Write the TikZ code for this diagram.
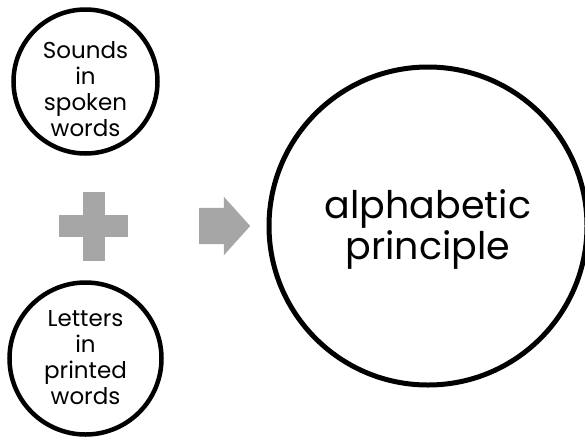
\documentclass[tikz,border=0pt]{standalone}
\usepackage{fontspec}
\setmainfont{Poppins}
\usetikzlibrary{shapes.arrows}

\definecolor{symbolgray}{HTML}{A6A6A6}

\tikzset{
  idea/.style={circle, draw=black, line width=4.5pt, inner sep=0pt},
  result/.style={circle, draw=black, line width=5pt, inner sep=0pt, minimum size=318pt},
  ideatext/.style={align=center, font=\fontsize{23}{26}\selectfont, inner sep=0pt},
  resulttext/.style={align=center, font=\fontsize{38}{41}\selectfont, inner sep=0pt},
  bar/.style={fill=symbolgray, inner sep=0pt},
}

\begin{document}
\begin{tikzpicture}[x=1pt, y=-1pt]
  \useasboundingbox (0,0) rectangle (585,442);

  \node[idea, minimum size=144pt] (sounds) at (85.5,81.5) {};
  \node[ideatext] (soundstext) at ([yshift=-8pt]sounds.center) {Sounds\\in\\spoken\\words};
  \node[idea, minimum size=152pt] (letters) at (85.5,358.5) {};
  \node[ideatext] (letterstext) at ([yshift=1pt]letters.center) {Letters\\in\\printed\\words};

  % the plus sign between the two circles
  \node[bar, minimum width=69pt, minimum height=22pt] (plush) at (93.5,226) {};
  \node[bar, minimum width=22pt, minimum height=69pt] (plusv) at (plush) {};

  \node[result] (principle) at (428,226) {};
  \node[resulttext] (principletext) at ([yshift=-3pt]principle.center) {alphabetic\\principle};

  \node[single arrow, fill=symbolgray, inner xsep=0pt, inner ysep=18pt,
    minimum height=51pt, single arrow head extend=11pt,
    single arrow tip angle=96] (leadsto) at (216.5,226) {};
\end{tikzpicture}
\end{document}
